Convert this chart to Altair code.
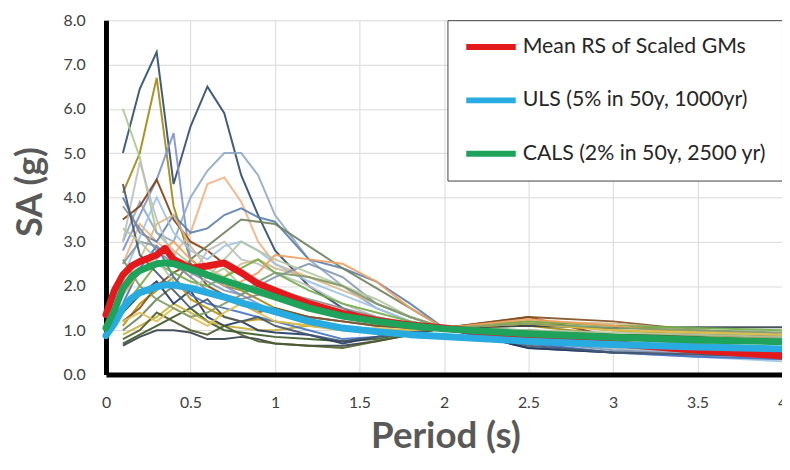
import altair as alt
import pandas as pd

# ---- data ----
periods = [0.1, 0.2, 0.3, 0.4, 0.5, 0.6, 0.7, 0.8, 0.9, 1.0, 1.2, 1.4, 1.6, 1.8, 2.0, 2.5, 3.0, 3.5, 4.0]

gm_colors = ["#2E4A6F", "#A08A10", "#A9C98E", "#7F8FD0", "#8EA9C8", "#F4B183", "#843C0C",
             "#5B7FAF", "#6B7F5B", "#375623", "#34404C", "#C9B037", "#1F3864", "#BF9000",
             "#7F4F1F", "#9DC3E6", "#BFBFBF", "#D6B98C", "#4472C4", "#70AD47", "#F0A060",
             "#7F96AF", "#4F5B2A", "#8C8C8C", "#44546A", "#E0C050", "#B4C7A2", "#7E9B6A"]

gm_values = [
    [5.0, 6.45, 7.28, 4.3, 5.6, 6.5, 5.9, 4.5, 3.6, 2.8, 2.0, 1.5, 1.2, 1.1, 1.05, 0.6, 0.5, 0.45, 0.4],
    [4.1, 5.0, 6.7, 3.8, 2.6, 2.3, 2.0, 1.9, 1.7, 1.5, 1.3, 1.2, 1.1, 1.05, 1.05, 1.1, 0.9, 0.8, 0.7],
    [6.0, 4.9, 3.2, 2.8, 2.5, 2.2, 2.4, 2.0, 1.8, 1.7, 1.5, 1.3, 1.2, 1.1, 1.05, 1.2, 1.0, 0.95, 0.9],
    [2.8, 3.6, 4.4, 5.45, 2.5, 2.2, 2.0, 1.8, 1.6, 1.4, 1.3, 1.2, 1.1, 1.05, 1.05, 0.8, 0.6, 0.5, 0.4],
    [3.0, 3.9, 3.2, 3.0, 4.0, 4.6, 5.0, 5.0, 4.5, 3.6, 2.6, 2.0, 1.5, 1.2, 1.05, 0.7, 0.5, 0.4, 0.35],
    [2.5, 3.4, 3.0, 2.7, 3.2, 4.3, 4.45, 3.9, 3.0, 2.5, 2.2, 2.0, 1.6, 1.3, 1.05, 1.2, 1.0, 0.8, 0.7],
    [3.5, 3.8, 4.4, 3.5, 3.0, 2.8, 2.5, 2.3, 2.1, 1.9, 1.6, 1.4, 1.2, 1.1, 1.05, 1.3, 0.85, 0.8, 0.75],
    [4.0, 3.2, 3.0, 3.6, 3.2, 3.3, 3.6, 3.75, 3.55, 3.45, 2.6, 2.4, 2.1, 1.6, 1.05, 0.8, 0.65, 0.55, 0.5],
    [1.0, 1.3, 1.7, 2.0, 2.6, 2.9, 3.2, 3.5, 3.45, 3.4, 2.9, 2.4, 1.95, 1.5, 1.05, 0.9, 0.7, 0.6, 0.55],
    [0.7, 0.9, 1.1, 1.3, 1.5, 1.2, 1.0, 0.95, 0.9, 0.85, 0.8, 0.75, 0.8, 0.95, 1.05, 0.95, 0.9, 0.85, 0.8],
    [0.65, 0.85, 1.0, 1.0, 0.95, 0.8, 0.8, 0.85, 0.8, 0.7, 0.65, 0.65, 0.75, 0.9, 1.05, 1.1, 1.05, 1.07, 1.07],
    [0.9, 1.1, 1.3, 1.6, 1.4, 1.2, 1.1, 1.05, 1.0, 1.0, 1.1, 1.0, 1.0, 1.0, 1.05, 1.2, 1.1, 0.95, 0.9],
    [1.4, 1.8, 2.1, 1.6, 1.9, 1.3, 1.1, 1.2, 1.0, 0.95, 0.9, 0.7, 0.85, 1.0, 1.05, 0.6, 0.5, 0.5, 0.5],
    [1.1, 1.6, 1.9, 2.2, 1.7, 1.5, 1.3, 1.2, 1.25, 1.2, 1.1, 1.05, 1.0, 1.0, 1.05, 1.15, 1.0, 0.9, 0.85],
    [1.2, 1.5, 2.0, 2.3, 2.5, 2.0, 1.8, 1.6, 1.4, 1.5, 1.3, 1.2, 1.1, 1.05, 1.05, 1.3, 1.2, 1.0, 0.9],
    [2.2, 3.1, 4.0, 3.2, 2.8, 2.6, 2.9, 3.0, 2.8, 2.5, 2.1, 1.8, 1.5, 1.2, 1.05, 0.8, 0.6, 0.4, 0.3],
    [3.0, 4.8, 3.5, 2.6, 2.2, 2.8, 3.0, 2.6, 2.5, 2.3, 2.0, 1.6, 1.3, 1.15, 1.05, 0.85, 0.6, 0.45, 0.35],
    [2.0, 2.6, 3.4, 3.6, 2.9, 2.4, 2.2, 2.5, 2.6, 2.4, 2.2, 1.9, 1.6, 1.3, 1.05, 1.2, 1.15, 1.0, 0.9],
    [1.6, 2.4, 2.9, 2.2, 1.8, 1.6, 1.5, 1.4, 1.3, 1.2, 1.0, 0.8, 0.85, 0.95, 1.05, 0.7, 0.5, 0.4, 0.35],
    [1.5, 2.0, 2.5, 2.3, 2.1, 2.0, 2.2, 2.4, 2.6, 2.3, 1.9, 1.6, 1.4, 1.2, 1.05, 1.2, 1.1, 1.05, 1.0],
    [1.8, 2.3, 2.7, 3.0, 2.6, 2.3, 2.0, 2.1, 2.3, 2.7, 2.6, 2.5, 2.1, 1.5, 1.05, 1.25, 1.1, 0.9, 0.8],
    [2.5, 3.0, 2.9, 2.6, 2.3, 2.1, 1.9, 1.8, 2.0, 2.2, 2.5, 2.2, 1.6, 1.3, 1.05, 0.75, 0.55, 0.45, 0.4],
    [0.8, 1.0, 1.4, 1.2, 1.0, 0.9, 1.1, 0.9, 0.75, 0.7, 0.65, 0.6, 0.75, 0.9, 1.05, 1.0, 0.9, 0.9, 0.85],
    [3.8, 3.3, 2.8, 2.5, 2.2, 1.9, 1.8, 1.7, 1.8, 1.9, 1.7, 1.5, 1.3, 1.15, 1.05, 1.0, 0.8, 0.7, 0.6],
    [4.3, 2.7, 2.3, 1.9, 1.5, 1.7, 1.3, 1.2, 1.3, 1.1, 0.9, 0.75, 0.85, 0.95, 1.05, 0.65, 0.5, 0.45, 0.4],
    [1.2, 1.4, 1.2, 1.5, 1.3, 1.1, 1.4, 1.6, 1.4, 1.2, 1.1, 1.0, 1.05, 1.0, 1.05, 1.15, 1.0, 0.95, 0.9],
    [3.3, 3.0, 2.6, 2.1, 1.9, 2.2, 2.6, 3.0, 2.8, 2.6, 2.3, 2.0, 1.7, 1.3, 1.05, 1.0, 0.95, 0.9, 0.85],
    [2.6, 2.0, 1.7, 1.5, 1.3, 1.4, 1.6, 1.8, 2.1, 2.3, 2.2, 2.0, 1.6, 1.3, 1.05, 1.15, 1.05, 1.0, 0.95],
]

periods_main = [0.0, 0.05, 0.1, 0.15, 0.2, 0.3, 0.35, 0.4, 0.5, 0.6, 0.7, 0.8, 0.9, 1.0,
                1.2, 1.4, 1.6, 1.8, 2.0, 2.5, 3.0, 3.5, 4.0]
mean_rs = [1.35, 1.9, 2.25, 2.45, 2.55, 2.7, 2.85, 2.6, 2.4, 2.45, 2.52, 2.3, 2.05, 1.9,
           1.6, 1.38, 1.22, 1.12, 1.05, 0.85, 0.7, 0.55, 0.42]
uls = [0.88, 1.15, 1.5, 1.72, 1.85, 1.98, 2.02, 2.02, 1.95, 1.85, 1.75, 1.62, 1.52, 1.42,
       1.2, 1.05, 0.97, 0.9, 0.86, 0.75, 0.68, 0.62, 0.58]
cals = [1.05, 1.45, 1.95, 2.2, 2.35, 2.5, 2.52, 2.5, 2.38, 2.25, 2.12, 2.0, 1.88, 1.75,
        1.5, 1.32, 1.2, 1.1, 1.03, 0.92, 0.84, 0.78, 0.74]

series_names = ["Mean RS of Scaled GMs", "ULS (5% in 50y, 1000yr)", "CALS (2% in 50y, 2500 yr)"]
series_colors = ["#E3191B", "#27ABE0", "#1FA25A"]

x_ticks = [0, 0.5, 1, 1.5, 2, 2.5, 3, 3.5, 4]
y_ticks = [0, 1, 2, 3, 4, 5, 6, 7, 8]

# ---- tables ----
gm_names = [f"GM{i + 1:02d}" for i in range(len(gm_values))]
rows = []
for name, vals in zip(gm_names, gm_values):
    for t, v in zip(periods, vals):
        rows.append({"gm": name, "T": t, "SA": v})
df_gm = pd.DataFrame(rows)

rows = []
for name, vals in zip(series_names, [mean_rs, uls, cals]):
    for t, v in zip(periods_main, vals):
        rows.append({"series": name, "T": t, "SA": v})
df_main = pd.DataFrame(rows)

x_enc = alt.X("T:Q", scale=alt.Scale(domain=[0, 4], nice=False),
              axis=alt.Axis(values=x_ticks, format="~g", title="Period (s)",
                            titleX=343, titleY=74, titleBaseline="alphabetic",
                            titleFontSize=37, labelPadding=20, labelFlush=False))
y_enc = alt.Y("SA:Q", scale=alt.Scale(domain=[0, 8], nice=False),
              axis=alt.Axis(values=y_ticks, format=".1f", title="SA (g)",
                            titleX=-57, titleY=173, titleBaseline="bottom",
                            labelPadding=21))

thin = alt.Chart(df_gm).mark_line(strokeWidth=2, opacity=0.9).encode(
    x=x_enc, y=y_enc,
    color=alt.Color("gm:N", scale=alt.Scale(domain=gm_names, range=gm_colors), legend=None),
)

thick = alt.Chart(df_main).mark_line(strokeWidth=7, strokeJoin="round", strokeCap="round").encode(
    x=x_enc, y=y_enc,
    color=alt.Color("series:N",
                    scale=alt.Scale(domain=series_names, range=series_colors),
                    legend=alt.Legend(title=None, orient="none", legendX=345, legendY=0,
                                      symbolType="stroke", symbolSize=2500, symbolStrokeWidth=6,
                                      clipHeight=22, rowPadding=32, padding=16,
                                      labelOffset=4, labelFontSize=21.5, labelFont="Lato",
                                      labelColor="#262626", strokeColor="#404040",
                                      fillColor="white", labelLimit=400)),
)

chart = alt.layer(thin, thick).resolve_scale(color="independent").properties(
    width=683, height=358,
    padding={"left": 99, "top": 10, "right": 0, "bottom": 82},
    autosize=alt.AutoSizeParams(type="none"),
    background="white",
).configure_axis(
    labelFont="Lato", labelFontSize=16, labelColor="#404040",
    titleFont="Lato", titleFontSize=36, titleFontWeight="bold", titleColor="#595959",
    domainColor="black", domainWidth=5, ticks=False, tickSize=0,
    gridColor="#D9D9D9", gridWidth=1,
).configure_view(stroke=None)

chart.save("out.html", embed_options={"renderer": "svg", "actions": False})
